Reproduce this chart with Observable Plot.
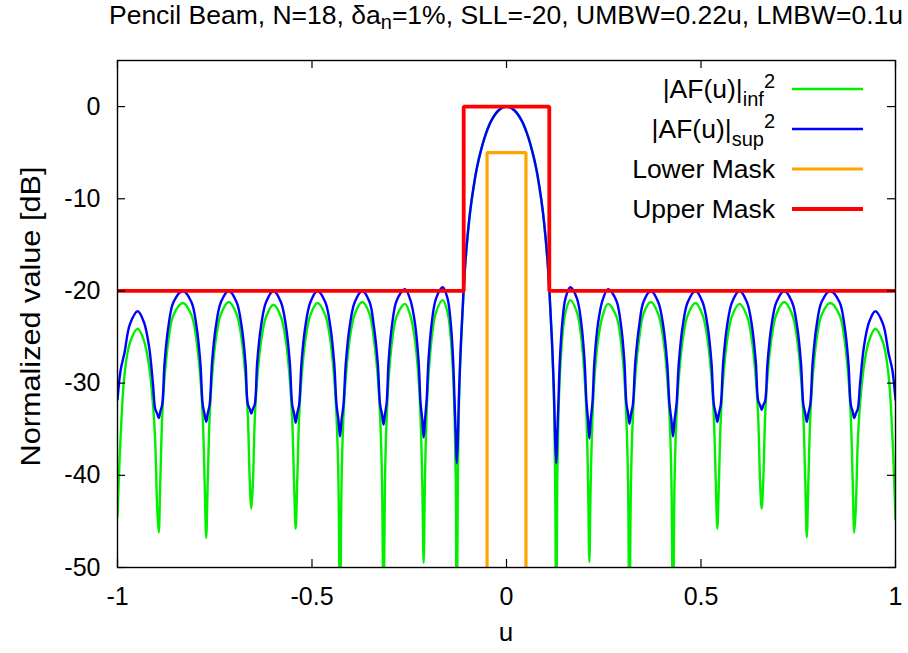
<!DOCTYPE html>
<html>
<head>
<meta charset="utf-8">
<script src="https://cdn.jsdelivr.net/npm/d3@7"></script>
<script src="https://cdn.jsdelivr.net/npm/@observablehq/plot@0.6"></script>
<style>
  html, body { margin: 0; padding: 0; background: #fff; }
  #chart { width: 908px; height: 653px; }
</style>
</head>
<body>
<div id="chart"></div>
<script>
// ---------- data ----------
const u = [
  -1, -0.992, -0.982, -0.968, -0.948, -0.932, -0.919, -0.909, -0.903, -0.898, -0.894,
  -0.890, -0.885, -0.879, -0.869, -0.856, -0.832, -0.810, -0.797, -0.787, -0.781, -0.776, -0.772,
  -0.768, -0.763, -0.757, -0.747, -0.734, -0.714, -0.694, -0.681, -0.671, -0.665, -0.660, -0.656,
  -0.652, -0.647, -0.641, -0.631, -0.618, -0.599, -0.580, -0.567, -0.557, -0.551, -0.546, -0.542,
  -0.538, -0.533, -0.527, -0.517, -0.504, -0.486, -0.466, -0.453, -0.443, -0.437, -0.432, -0.428,
  -0.424, -0.419, -0.413, -0.403, -0.390, -0.371, -0.352, -0.341, -0.331, -0.325, -0.320, -0.316,
  -0.3125, -0.308, -0.303, -0.294, -0.282, -0.261, -0.247, -0.235, -0.226, -0.221, -0.2165, -0.213,
  -0.2096, -0.2054, -0.2004, -0.192, -0.181, -0.164, -0.1516, -0.1435, -0.1373, -0.1336, -0.1305, -0.128,
  -0.125, -0.122, -0.117, -0.111, -0.106, -0.100, -0.093, -0.085, -0.076, -0.066, -0.055, -0.040, -0.020,
  0,
  0.020, 0.040, 0.055, 0.066, 0.076, 0.085, 0.093, 0.100, 0.106, 0.111, 0.117, 0.122, 0.125,
  0.128, 0.1305, 0.1336, 0.1373, 0.1435, 0.1516, 0.164, 0.181, 0.192, 0.2004, 0.2054, 0.2096, 0.213,
  0.2165, 0.221, 0.226, 0.235, 0.247, 0.261, 0.282, 0.294, 0.303, 0.308, 0.3125, 0.316,
  0.320, 0.325, 0.331, 0.341, 0.352, 0.371, 0.390, 0.403, 0.413, 0.419, 0.424, 0.428,
  0.432, 0.437, 0.443, 0.453, 0.466, 0.486, 0.504, 0.517, 0.527, 0.533, 0.538, 0.542,
  0.546, 0.551, 0.557, 0.567, 0.580, 0.599, 0.618, 0.631, 0.641, 0.647, 0.652, 0.656,
  0.660, 0.665, 0.671, 0.681, 0.694, 0.714, 0.734, 0.747, 0.757, 0.763, 0.768, 0.772,
  0.776, 0.781, 0.787, 0.797, 0.810, 0.832, 0.856, 0.869, 0.879, 0.885, 0.890, 0.894,
  0.898, 0.903, 0.909, 0.919, 0.932, 0.948, 0.968, 0.982, 0.992, 1
];

// |AF(u)|_inf^2 [dB]
const afInf = [
  -44.5, -35.8, -29.1, -25.6, -24.1, -25.4, -28.1, -32.2, -36.4, -43.5, -46.2,
  -40.7, -33.6, -29.4, -25.3, -22.6, -21.3, -22.6, -25.3, -29.4, -33.6, -40.7, -46.8,
  -40.6, -33.5, -29.3, -25.2, -22.5, -21.2, -22.5, -25.2, -29.3, -33.5, -40.6, -43.6,
  -40.9, -33.8, -29.6, -25.5, -22.8, -21.5, -22.8, -25.5, -29.6, -33.8, -40.9, -45.8,
  -40.7, -33.6, -29.4, -25.3, -22.6, -21.3, -22.6, -25.3, -29.4, -33.6, -40.7, -58,
  -40.6, -33.5, -29.3, -25.2, -22.5, -21.2, -22.5, -25.2, -29.3, -33.5, -40.6, -58,
  -40.8, -33.7, -29.5, -25.4, -22.7, -21.4, -22.7, -25.4, -29.5, -33.7, -40.8, -49.5,
  -40.4, -33.3, -29.1, -25.0, -22.3, -21.0, -22.3, -25.0, -29.1, -33.3, -40.4, -60,
  -40, -32, -25.8, -20.7, -17.2, -14.1, -11.3, -8.9, -6.7, -4.8, -3.2, -1.6, -0.4,
  0,
  -0.4, -1.6, -3.2, -4.8, -6.7, -8.9, -11.3, -14.1, -17.2, -20.7, -25.8, -32, -40,
  -60, -40.4, -33.3, -29.1, -25.0, -22.3, -21.0, -22.3, -25.0, -29.1, -33.3, -40.4, -49.4,
  -40.8, -33.7, -29.5, -25.4, -22.7, -21.4, -22.7, -25.4, -29.5, -33.7, -40.8, -58,
  -40.6, -33.5, -29.3, -25.2, -22.5, -21.2, -22.5, -25.2, -29.3, -33.5, -40.6, -58,
  -40.7, -33.6, -29.4, -25.3, -22.6, -21.3, -22.6, -25.3, -29.4, -33.6, -40.7, -45.8,
  -40.8, -33.7, -29.5, -25.4, -22.7, -21.4, -22.7, -25.4, -29.5, -33.7, -40.8, -43.6,
  -40.6, -33.5, -29.3, -25.2, -22.5, -21.2, -22.5, -25.2, -29.3, -33.5, -40.6, -46.7,
  -40.7, -33.6, -29.4, -25.3, -22.6, -21.3, -22.6, -25.3, -29.4, -33.6, -40.7, -46.2,
  -43.5, -36.4, -32.2, -28.1, -25.4, -24.1, -25.6, -29.1, -35.8, -44.8
];

// |AF(u)|_sup^2 [dB]
const afSup = [
  -31.8, -28.6, -26.7, -23.6, -22.2, -23.4, -26.0, -30.0, -32.8, -33.3, -33.8,
  -33.1, -32.3, -27.8, -23.8, -21.2, -20.0, -21.2, -23.8, -27.8, -32.3, -33.4, -34.2,
  -33.3, -32.3, -27.8, -23.8, -21.2, -20.0, -21.2, -23.8, -27.8, -32.3, -32.8, -33.3,
  -32.8, -32.3, -27.8, -23.8, -21.2, -20.0, -21.2, -23.8, -27.8, -32.3, -33.3, -34.3,
  -33.3, -32.3, -27.8, -23.8, -21.2, -20.0, -21.2, -23.8, -27.8, -32.3, -34.0, -35.8,
  -34.0, -32.3, -27.8, -23.8, -21.2, -20.0, -21.2, -23.8, -27.8, -32.3, -33.4, -34.5,
  -33.4, -32.1, -27.6, -23.6, -21.0, -19.8, -21.0, -23.6, -27.6, -32.1, -34.0, -35.9,
  -34.0, -31.9, -27.4, -23.4, -20.8, -19.6, -20.8, -23.4, -27.4, -31.9, -35.5, -38.7,
  -36, -31, -25.5, -20.5, -17.0, -14.0, -11.2, -8.8, -6.6, -4.8, -3.2, -1.6, -0.4,
  0,
  -0.4, -1.6, -3.2, -4.8, -6.6, -8.8, -11.2, -14.0, -17.0, -20.5, -25.5, -31, -36,
  -38.7, -35.5, -31.9, -27.4, -23.4, -20.8, -19.6, -20.8, -23.4, -27.4, -31.9, -34.0, -36.0,
  -34.0, -32.1, -27.6, -23.6, -21.0, -19.8, -21.0, -23.6, -27.6, -32.1, -33.3, -34.4,
  -33.4, -32.3, -27.8, -23.8, -21.2, -20.0, -21.2, -23.8, -27.8, -32.3, -34.0, -35.8,
  -34.0, -32.3, -27.8, -23.8, -21.2, -20.0, -21.2, -23.8, -27.8, -32.3, -33.3, -34.2,
  -33.3, -32.3, -27.8, -23.8, -21.2, -20.0, -21.2, -23.8, -27.8, -31.9, -32.4, -32.9,
  -32.4, -31.9, -27.8, -23.8, -21.2, -20.0, -21.2, -23.8, -27.8, -32.3, -33.3, -34.2,
  -33.3, -32.3, -27.8, -23.8, -21.2, -20.0, -21.2, -23.8, -27.8, -32.3, -33.1, -33.8,
  -33.3, -32.8, -30.0, -26.0, -23.4, -22.2, -23.6, -26.7, -28.6, -31.8
];

const upperMaskU = [-1, -0.11, -0.11, 0.11, 0.11, 1];
const upperMaskV = [-20, -20, 0, 0, -20, -20];
const lowerMaskU = [-0.05, -0.05, 0.05, 0.05];
const lowerMaskV = [-60, -5, -5, -60];

const xTicks = [-1, -0.5, 0, 0.5, 1];
const yTicks = [0, -10, -20, -30, -40, -50];

const seriesNames = ["|AF(u)|", "|AF(u)|", "Lower Mask", "Upper Mask"];
const seriesSub = ["inf", "sup", "", ""];
const seriesSup = ["2", "2", "", ""];
const seriesColors = ["#00f000", "#0000ff", "#ffa500", "#ff0000"];
const seriesWidths = [2.4, 2.4, 3.2, 3.8];

const titleMain = "Pencil Beam, N=18, \u03b4a";
const titleSub = "n";
const titleRest = "=1%, SLL=-20, UMBW=0.22u, LMBW=0.1u";
const xLabel = "u";
const yLabel = "Normalized value [dB]";

// ---------- tables ----------
const infData = u.map((x, i) => ({u: x, v: afInf[i]}));
const supData = u.map((x, i) => ({u: x, v: afSup[i]}));
const upperData = upperMaskU.map((x, i) => ({u: x, v: upperMaskV[i]}));
const lowerData = lowerMaskU.map((x, i) => ({u: x, v: lowerMaskV[i]}));

const FONT = "'Liberation Sans', Arial, Helvetica, sans-serif";
const W = 908, H = 653;
const mL = 117, mR = 13, mT = 60, mB = 86;
const frameW = W - mL - mR, frameH = H - mT - mB;
const tick = 8;

const chart = Plot.plot({
  width: W,
  height: H,
  marginLeft: mL,
  marginRight: mR,
  marginTop: mT,
  marginBottom: mB,
  style: {fontFamily: FONT, background: "#fff", color: "#000"},
  x: {domain: [-1, 1]},
  y: {domain: [-50, 5]},
  marks: [
    Plot.line(infData, {x: "u", y: "v", stroke: seriesColors[0], strokeWidth: seriesWidths[0], curve: "catmull-rom", clip: true}),
    Plot.line(supData, {x: "u", y: "v", stroke: seriesColors[1], strokeWidth: seriesWidths[1], curve: "catmull-rom", clip: true}),
    Plot.line(lowerData, {x: "u", y: "v", stroke: seriesColors[2], strokeWidth: seriesWidths[2], strokeLinejoin: "miter", clip: true}),
    Plot.line(upperData, {x: "u", y: "v", stroke: seriesColors[3], strokeWidth: seriesWidths[3], strokeLinejoin: "miter", clip: true}),
    // inward ticks on all four sides
    Plot.ruleY(yTicks, {y: d => d, insetRight: frameW - tick, stroke: "#000", strokeWidth: 1.2}),
    Plot.ruleY(yTicks, {y: d => d, insetLeft: frameW - tick, stroke: "#000", strokeWidth: 1.2}),
    Plot.ruleX(xTicks, {x: d => d, insetTop: frameH - tick, stroke: "#000", strokeWidth: 1.2}),
    Plot.ruleX(xTicks, {x: d => d, insetBottom: frameH - tick, stroke: "#000", strokeWidth: 1.2}),
    Plot.frame({stroke: "#000", strokeWidth: 1.4}),
    Plot.axisX({ticks: xTicks, tickSize: 0, tickPadding: 20, tickFormat: d => String(d), fontSize: 25, label: null}),
    Plot.axisY({ticks: yTicks, tickSize: 0, tickPadding: 17, tickFormat: d => String(d), fontSize: 25, label: null})
  ]
});

document.getElementById("chart").appendChild(chart);

const s = d3.select(chart);

// title
const t = s.append("text")
  .attr("x", mL + frameW / 2)
  .attr("y", 24)
  .attr("text-anchor", "middle")
  .style("font-family", FONT)
  .style("font-size", "26.5px")
  .attr("fill", "#000");
t.append("tspan").text(titleMain);
t.append("tspan").attr("dy", 5).style("font-size", "20px").text(titleSub);
t.append("tspan").attr("dy", -5).text(titleRest);

// axis labels
s.append("text")
  .attr("x", mL + frameW / 2)
  .attr("y", 641)
  .attr("text-anchor", "middle")
  .style("font-family", FONT)
  .style("font-size", "26px")
  .attr("fill", "#000")
  .text(xLabel);

s.append("text")
  .attr("transform", `translate(40,${mT + frameH / 2 + 3}) rotate(-90)`)
  .attr("text-anchor", "middle")
  .attr("textLength", 300)
  .attr("lengthAdjust", "spacingAndGlyphs")
  .style("font-family", FONT)
  .style("font-size", "27px")
  .attr("fill", "#000")
  .text(yLabel);

// legend
const lg = s.append("g");
seriesNames.forEach((name, i) => {
  const cy = mT + 29 + i * 40;
  const tx = lg.append("text")
    .attr("x", 775)
    .attr("y", cy + 9)
    .attr("text-anchor", "end")
    .style("font-family", FONT)
    .style("font-size", "26.5px")
    .attr("fill", "#000");
  tx.append("tspan").text(name);
  if (seriesSub[i]) {
    tx.append("tspan").attr("dy", 8).style("font-size", "20px").text(seriesSub[i]);
    tx.append("tspan").attr("dy", -18).style("font-size", "20px").text(seriesSup[i]);
  }
  lg.append("line")
    .attr("x1", 792).attr("x2", 863)
    .attr("y1", cy).attr("y2", cy)
    .attr("stroke", seriesColors[i])
    .attr("stroke-width", seriesWidths[i]);
});
</script>
</body>
</html>
